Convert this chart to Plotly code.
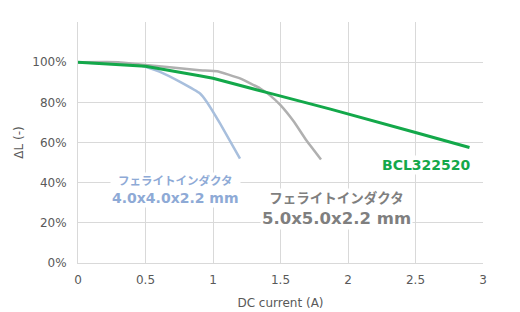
import plotly.graph_objects as go

# Data
bcl_x = [0, 0.5, 0.9, 1.0, 1.41, 1.87, 2.5, 2.9]
bcl_y = [1.00, 0.98, 0.932, 0.92, 0.847, 0.766, 0.65, 0.575]

fer5_x = [0, 0.3, 0.46, 0.9, 1.03, 1.2, 1.35, 1.42, 1.5, 1.6, 1.69, 1.8]
fer5_y = [1.00, 1.00, 0.989, 0.96, 0.955, 0.919, 0.869, 0.836, 0.786, 0.703, 0.612, 0.515]

fer4_x = [0, 0.3, 0.46, 0.607, 0.756, 0.904, 0.953, 1.052, 1.2]
fer4_y = [1.00, 0.99, 0.985, 0.952, 0.902, 0.844, 0.803, 0.695, 0.52]

y_ticks = [0, 0.2, 0.4, 0.6, 0.8, 1.0, 1.2]
y_ticktext = ["0%", "20%", "40%", "60%", "80%", "100%", ""]
x_ticks = [0, 0.5, 1, 1.5, 2, 2.5, 3]
x_ticktext = ["0", "0.5", "1", "1.5", "2", "2.5", "3"]

GREEN = "#13a84a"
GRAY = "#b0b0b0"
BLUE = "#a8bfdd"

fig = go.Figure()
fig.add_trace(go.Scatter(x=fer4_x, y=fer4_y, mode="lines",
                         line=dict(color=BLUE, width=2.5, shape="spline", smoothing=0.3)))
fig.add_trace(go.Scatter(x=fer5_x, y=fer5_y, mode="lines",
                         line=dict(color=GRAY, width=2.5, shape="spline", smoothing=0.3)))
fig.add_trace(go.Scatter(x=bcl_x, y=bcl_y, mode="lines",
                         line=dict(color=GREEN, width=3)))

font_fam = "Verdana, DejaVu Sans, Noto Sans CJK JP, sans-serif"
ann_fam = "Verdana, DejaVu Sans, Noto Sans CJK JP, sans-serif"

fig.add_annotation(x=0.72, y=0.363, xref="x", yref="y", showarrow=False,
                   text="<b><span style='font-size:11.5px'>フェライトインダクタ</span><br>4.0x4.0x2.2 mm</b>",
                   font=dict(color="#8eaad6", size=14, family=ann_fam),
                   bgcolor="white", align="center")
fig.add_annotation(x=1.916, y=0.269, xref="x", yref="y", showarrow=False,
                   text="<b><span style='font-size:13.5px'>フェライトインダクタ</span><br>5.0x5.0x2.2 mm</b>",
                   font=dict(color="#7f7f7f", size=16.5, family=ann_fam),
                   bgcolor="white", align="center")
fig.add_annotation(x=2.58, y=0.488, xref="x", yref="y", showarrow=False,
                   text="<b>BCL322520</b>",
                   font=dict(color="#14a84a", size=14, family=ann_fam),
                   bgcolor="white")

fig.update_layout(
    width=520, height=312,
    margin=dict(l=78, r=37, t=22, b=49),
    paper_bgcolor="white", plot_bgcolor="white",
    showlegend=False,
    font=dict(family=font_fam, color="#595959", size=12),
)
fig.update_xaxes(range=[0, 3], tickvals=x_ticks, ticktext=x_ticktext, automargin=False,
                 ticklabelstandoff=6,
                 showgrid=True, gridcolor="#d9d9d9", gridwidth=1,
                 zeroline=False, showline=True, linecolor="#d9d9d9",
                 ticks="", title=dict(text="DC current (A)", font=dict(size=12), standoff=12))
fig.update_yaxes(range=[0, 1.2], tickvals=y_ticks, ticktext=y_ticktext, automargin=False,
                 ticklabelstandoff=8,
                 showgrid=True, gridcolor="#d9d9d9", gridwidth=1,
                 zeroline=False, showline=True, linecolor="#d9d9d9",
                 ticks="", title=dict(text="ΔL (-)", font=dict(size=12), standoff=6))

fig.write_html("out.html")
